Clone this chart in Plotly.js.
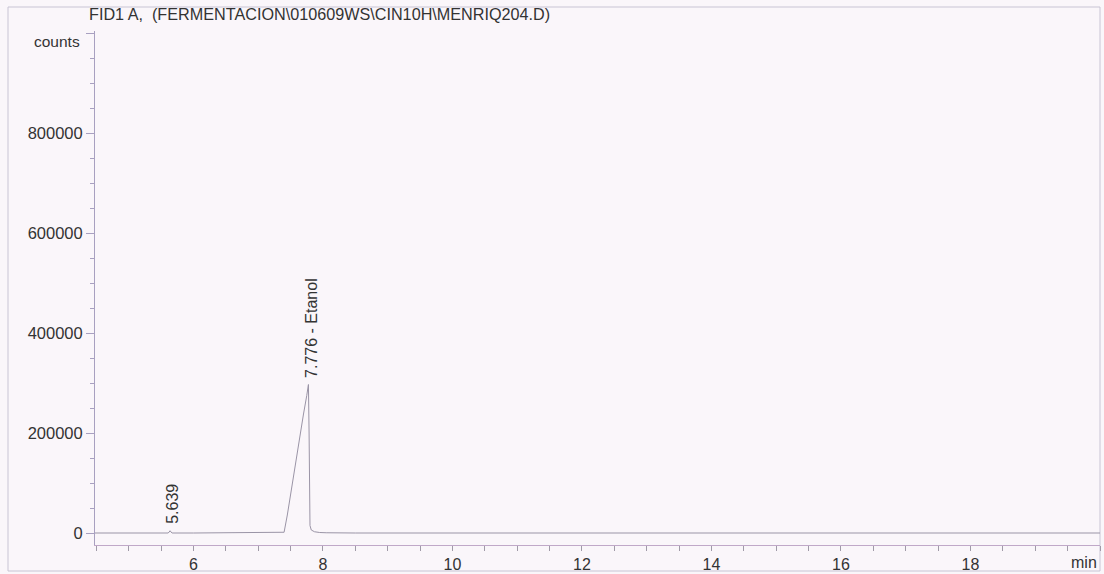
<!DOCTYPE html>
<html>
<head>
<meta charset="utf-8">
<script src="https://cdn.plot.ly/plotly-3.0.1.min.js"></script>
<style>
html,body{margin:0;padding:0;background:#faf6fa;}
#chart{width:1104px;height:574px;}
</style>
</head>
<body>
<div id="chart"></div>
<script>
// Retention time (min) and detector signal (counts)
const timeMin = [4.48, 5.0, 5.5, 5.61, 5.625, 5.639, 5.655, 5.67, 6.0, 6.5, 7.0, 7.38, 7.40, 7.45, 7.50, 7.55, 7.60, 7.65, 7.70, 7.75, 7.776, 7.786, 7.792, 7.80, 7.82, 7.87, 7.95, 8.05, 8.5, 9.0, 10.0, 12.0, 14.0, 16.0, 18.0, 20.0];
const counts  = [0, 0, 0, 0, 2000, 4500, 2000, 0, 0, 0, 0, 0, 1500, 36000, 78000, 120000, 160000, 200000, 238000, 275000, 297000, 200000, 60000, 15000, 6000, 2500, 1000, 500, 0, 0, 0, 0, 0, 0, 0, 0];

const peakTimes  = [5.639, 7.776];
const peakHeights = [4500, 297000];
const peakLabels = ["5.639", "7.776 - Etanol"];

const xTickVals = [6, 8, 10, 12, 14, 16, 18];
const yTickVals = [0, 200000, 400000, 600000, 800000, 1000000];
const yTickText = ["0", "200000", "400000", "600000", "800000", ""];

const titleText = "FID1 A,  (FERMENTACION\\010609WS\\CIN10H\\MENRIQ204.D)";

const font = "Liberation Sans, Arial, sans-serif";
const L = 95, R = 4, T = 31, B = 29;
const W = 1104, H = 574;
const pw = W - L - R, ph = H - T - B;
const px = x => (x - L) / pw;
const py = y => (H - B - y) / ph;

const trace = {
  x: timeMin, y: counts, type: "scatter", mode: "lines",
  line: {color: "#9a94a6", width: 1},
  hoverinfo: "skip"
};

const annotations = peakTimes.map((t, i) => ({
  x: t, y: peakHeights[i], xref: "x", yref: "y",
  text: peakLabels[i], showarrow: false, textangle: -90,
  xanchor: "center", yanchor: "bottom", xshift: 3, yshift: 5,
  font: {family: font, size: 16, color: "#333"}
}));
annotations.push({
  x: px(87), y: py(14), xref: "paper", yref: "paper",
  text: titleText, showarrow: false, xanchor: "left", yanchor: "middle",
  font: {family: font, size: 16.2, color: "#333"}
});
annotations.push({
  x: px(82), y: py(41), xref: "paper", yref: "paper",
  text: "counts", showarrow: false, xanchor: "right", yanchor: "middle",
  font: {family: font, size: 15.5, color: "#333"}
});
annotations.push({
  x: px(1099), y: py(562), xref: "paper", yref: "paper",
  text: "min", showarrow: false, xanchor: "right", yanchor: "middle",
  font: {family: font, size: 16, color: "#333"}
});

const layout = {
  width: W, height: H,
  margin: {l: L, r: R, t: T, b: B, pad: 0},
  paper_bgcolor: "#faf6fa", plot_bgcolor: "#faf6fa",
  showlegend: false,
  xaxis: {
    range: [4.48, 20.0], tickvals: xTickVals, ticks: "outside", ticklen: 5,
    tickcolor: "#a09aa8", tickwidth: 1, showgrid: false, zeroline: false,
    showline: true, linecolor: "#c0a8c8", linewidth: 1,
    tickfont: {family: font, size: 16, color: "#333"},
    minor: {dtick: 0.5, tick0: 4.5, ticks: "outside", ticklen: 5, tickcolor: "#a09aa8", showgrid: false}
  },
  yaxis: {
    range: [-24000, 1004000], tickvals: yTickVals, ticktext: yTickText,
    ticks: "outside", ticklen: 8, tickcolor: "#a8a0c0", tickwidth: 1,
    showgrid: false, zeroline: false, showline: true, linecolor: "#a8a0c0", linewidth: 1,
    tickfont: {family: font, size: 16.5, color: "#333"},
    minor: {dtick: 50000, tick0: 0, ticks: "outside", ticklen: 4, tickcolor: "#a8a0c0", showgrid: false}
  },
  annotations: annotations,
  shapes: [{
    type: "rect", xref: "paper", yref: "paper",
    x0: px(8), x1: px(1100), y0: py(571), y1: py(7),
    line: {color: "#c8c4d4", width: 1}, fillcolor: "rgba(0,0,0,0)", layer: "below"
  }]
};

Plotly.newPlot("chart", [trace], layout, {staticPlot: true, displayModeBar: false});
</script>
</body>
</html>
